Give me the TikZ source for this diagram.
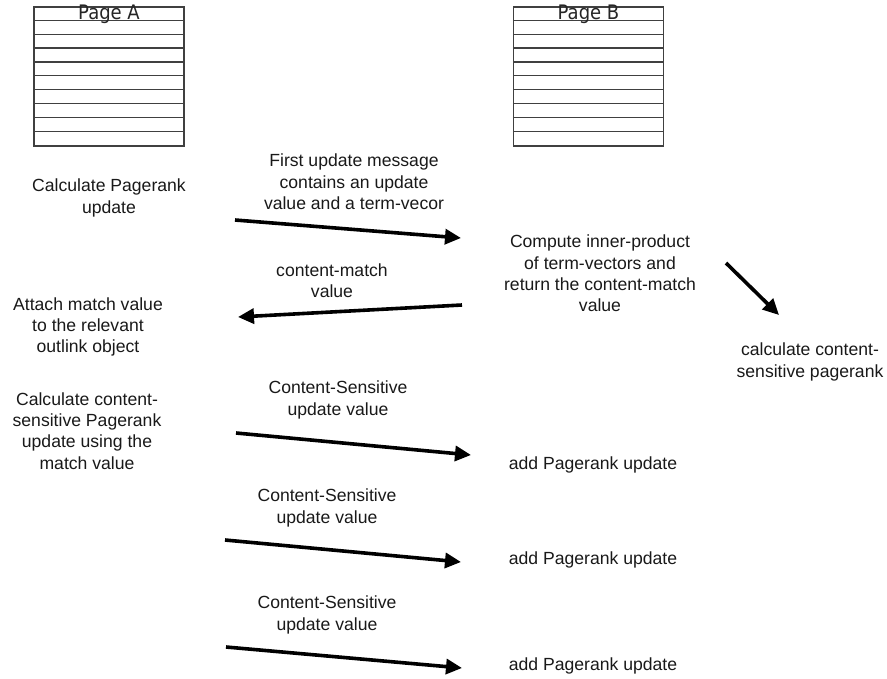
\documentclass[tikz,border=0pt]{standalone}
\usepackage{fontspec}
\setmainfont{Liberation Sans}
\newfontfamily\pagefont[FakeStretch=0.9]{DejaVu Sans}
\usetikzlibrary{arrows.meta}

\tikzset{
  txt/.style={align=center, inner sep=0pt, text=black!90,
              font=\fontsize{17.6}{21.3}\selectfont},
  pagebox/.style={draw=black!75, line width=1.2pt, inner sep=0pt,
                  minimum width=150pt, minimum height=139pt},
  rowline/.style={draw=black!75, line width=1.2pt},
  msg/.style={line width=3.6pt, -{Triangle[length=16pt,width=15pt]}},
  pagelabel/.style={inner sep=0pt, anchor=base,
                    font=\pagefont\fontsize{20}{24}\selectfont, text=black!85}
}

\begin{document}
\begin{tikzpicture}[x=1pt, y=-1pt]
  \useasboundingbox (0,0) rectangle (887,679);

  % the two pages, each a ruled table
  \node[pagebox] (pageA) at (109,76.5) {};
  \node[pagebox] (pageB) at (588.5,76.5) {};
  \foreach \k in {1,...,9} {
    \draw[rowline] ([yshift=-13.9*\k pt]pageA.north west) -- ([yshift=-13.9*\k pt]pageA.north east);
    \draw[rowline] ([yshift=-13.9*\k pt]pageB.north west) -- ([yshift=-13.9*\k pt]pageB.north east);
  }
  \node[pagelabel] (labA) at (109,19.5) {Page A};
  \node[pagelabel] (labB) at (588.5,19.5) {Page B};

  % steps on page A
  \node[txt] (calcA) at (109,198) {Calculate Pagerank\\update};
  \node[txt] (attach) at (88,327) {Attach match value\\to the relevant\\outlink object};
  \node[txt] (calcCS) at (87,431) {Calculate content-\\sensitive Pagerank\\update using the\\match value};

  % steps on page B
  \node[txt] (inner) at (600,273.5) {Compute inner-product\\of term-vectors and\\return the content-match\\value};
  \node[txt] (csrank) at (810,362) {calculate content-\\sensitive pagerank};
  \node[txt] (add1) at (593,465) {add Pagerank update};
  \node[txt] (add2) at (593,560) {add Pagerank update};
  \node[txt] (add3) at (593,666) {add Pagerank update};

  % message labels
  \node[txt] (m1) at (354,182) {First update message\\contains an update\\value and a term-vecor};
  \node[txt] (m2) at (332,281) {content-match\\value};
  \node[txt] (m3) at (338,400) {Content-Sensitive\\update value};
  \node[txt] (m4) at (327,508) {Content-Sensitive\\update value};
  \node[txt] (m5) at (327,615) {Content-Sensitive\\update value};

  % arrow end points
  \coordinate (a1s) at (235,220);  \coordinate (a1e) at (461,238);
  \coordinate (a2s) at (462,305);  \coordinate (a2e) at (238,317);
  \coordinate (a3s) at (726,263);  \coordinate (a3e) at (779,315);
  \coordinate (a4s) at (236,433);  \coordinate (a4e) at (471,455);
  \coordinate (a5s) at (225,540);  \coordinate (a5e) at (461,562);
  \coordinate (a6s) at (226,647);  \coordinate (a6e) at (462,668);

  \draw[msg] (a1s) -- (a1e);
  \draw[msg] (a2s) -- (a2e);
  \draw[msg] (a3s) -- (a3e);
  \draw[msg] (a4s) -- (a4e);
  \draw[msg] (a5s) -- (a5e);
  \draw[msg] (a6s) -- (a6e);
\end{tikzpicture}
\end{document}
